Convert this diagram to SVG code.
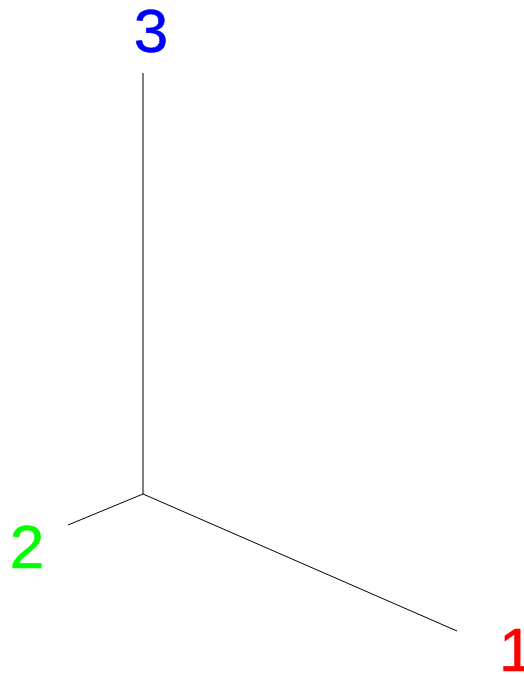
<svg xmlns="http://www.w3.org/2000/svg" width="524" height="675" viewBox="0 0 524 675">
<style>
.ax{stroke:#000;stroke-width:1;fill:none}
.lbl{font-family:"Liberation Sans",Arial,sans-serif;font-size:62px;stroke-width:0.6px}
</style>
<rect width="524" height="675" fill="#fff"/>
<g id="connectors">
<line class="ax" x1="143" y1="494" x2="143" y2="73"/>
<line class="ax" x1="143" y1="494" x2="457" y2="631"/>
<line class="ax" x1="143" y1="494" x2="68" y2="525"/>
</g>
<g id="node3"><text class="lbl" x="151" y="52" text-anchor="middle" fill="#0000ff" stroke="#0000ff">3</text></g>
<g id="node2"><text class="lbl" x="27" y="568" text-anchor="middle" fill="#00ff00" stroke="#00ff00">2</text></g>
<g id="node1"><text class="lbl" x="499" y="671" fill="#ff0000" stroke="#ff0000">1</text></g>
</svg>
